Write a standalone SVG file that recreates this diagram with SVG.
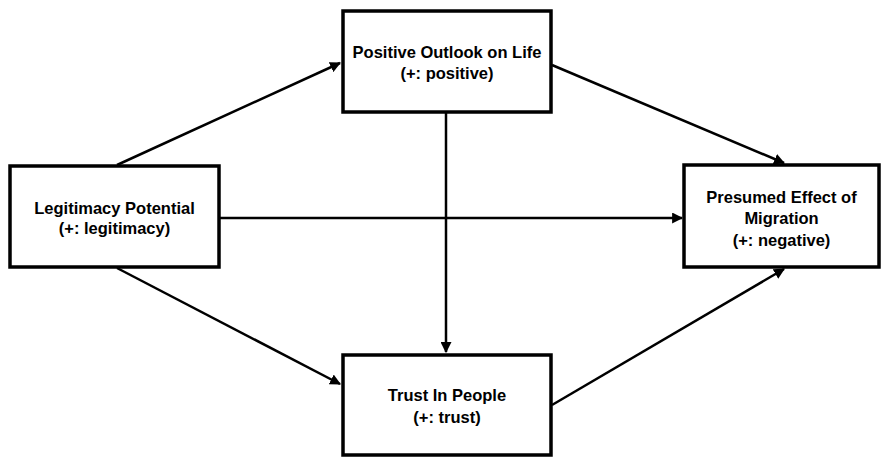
<svg xmlns="http://www.w3.org/2000/svg" width="883" height="458" viewBox="0 0 883 458">
<defs>
<style>
.box{fill:#fff;stroke:#000;stroke-width:3.5}
.t{font-family:"Liberation Sans",Arial,sans-serif;font-weight:bold;font-size:16.5px;fill:#000;text-anchor:middle}
.c{stroke:#000;stroke-width:2.5;fill:none;marker-end:url(#ah)}
</style>
<marker id="ah" viewBox="0 0 10 10" refX="9" refY="5" markerWidth="4.4" markerHeight="4.4" orient="auto" markerUnits="strokeWidth">
<path d="M0,0 L10,5 L0,10 z" fill="#000"/>
</marker>
</defs>
<rect width="883" height="458" fill="#fff"/>
<g id="connectors">
<line class="c" x1="117" y1="165" x2="340" y2="63"/>
<line class="c" x1="552" y1="65" x2="784" y2="163"/>
<line class="c" x1="220" y1="218" x2="682" y2="218"/>
<line class="c" x1="446" y1="113" x2="446" y2="352"/>
<line class="c" x1="117" y1="268" x2="340" y2="384"/>
<line class="c" x1="552" y1="405" x2="784" y2="269"/>
</g>
<g id="legitimacy">
<rect class="box" x="10" y="166" width="209" height="101"/>
<text class="t" x="114.5" y="214">Legitimacy Potential</text>
<text class="t" x="114.5" y="234">(+: legitimacy)</text>
</g>
<g id="outlook">
<rect class="box" x="343" y="11" width="208" height="101"/>
<text class="t" x="447" y="58">Positive Outlook on Life</text>
<text class="t" x="447" y="79">(+: positive)</text>
</g>
<g id="migration">
<rect class="box" x="684" y="165" width="195" height="102"/>
<text class="t" x="781.5" y="203">Presumed Effect of</text>
<text class="t" x="781.5" y="224">Migration</text>
<text class="t" x="781.5" y="246">(+: negative)</text>
</g>
<g id="trust">
<rect class="box" x="343" y="355" width="208" height="100"/>
<text class="t" x="447" y="401">Trust In People</text>
<text class="t" x="447" y="423">(+: trust)</text>
</g>
</svg>
